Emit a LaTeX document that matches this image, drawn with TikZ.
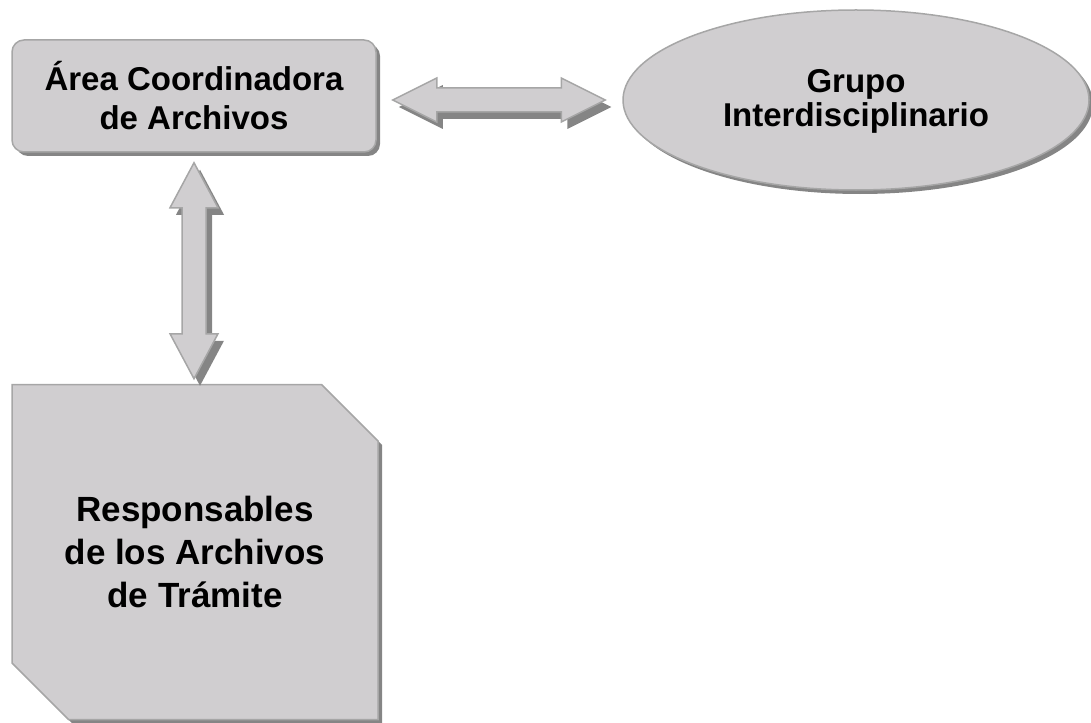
\documentclass[tikz,border=0pt]{standalone}
\usepackage{fontspec}
\setmainfont{Liberation Sans}
\usetikzlibrary{calc,shapes.geometric,shapes.misc,shadows}
\definecolor{boxfill}{RGB}{208,206,208}
\definecolor{boxline}{RGB}{166,166,166}
\definecolor{shadowgray}{RGB}{133,133,133}
\begin{document}
\begin{tikzpicture}[x=1pt,y=-1pt,line join=miter,
  boxshadow/.style={drop shadow={shadow xshift=4pt,shadow yshift=-4pt,fill=shadowgray,opacity=1}},
  arrowshadow/.style={drop shadow={shadow xshift=6pt,shadow yshift=-7pt,fill=shadowgray,opacity=1}},
  shapebox/.style={fill=boxfill,draw=boxline,line width=1.5pt,inner sep=0pt,boxshadow},
  blockarrow/.style={fill=boxfill,draw=boxline,line width=1.5pt,arrowshadow},
  labeltext/.style={font=\bfseries\fontsize{33}{#1}\selectfont,align=center,inner sep=0pt},
  labeltext/.default=39]
 % page
 \useasboundingbox (0,0) rectangle (1091,722);

 % the three offices
 \node[shapebox,rounded corners=12pt,minimum width=364pt,minimum height=112pt,
       labeltext] (area) at (194,96) {Área Coordinadora\\de Archivos};
 \node[shapebox,ellipse,minimum width=466pt,minimum height=180pt] (grupo) at (856,100) {};
 \node[labeltext=34] (grupotxt) at ([yshift=-1pt]grupo.center) {Grupo\\Interdisciplinario};
 \node[shapebox,chamfered rectangle,chamfered rectangle corners={north east,south west},
       chamfered rectangle xsep=28pt,chamfered rectangle ysep=28.5pt,
       minimum width=366pt,minimum height=335pt,labeltext=43,
       font=\bfseries\fontsize{35}{43}\selectfont]
       (resp) at (195,552) {Responsables\\de los Archivos\\de Trámite};

 % ends of the block arrows
 \coordinate (hl) at ([xshift=16pt]area.east |- grupo.center);
 \coordinate (hr) at ([xshift=-17pt]grupo.west);
 \coordinate (vt) at ([yshift=-10pt]area.south);
 \coordinate (vb) at ([yshift=5pt]vt |- resp.north);

 % horizontal double arrow
 \draw[blockarrow] (hl) -- ++(44,-22) -- ++(0,10) -- ($(hr)+(-44,-12)$) -- ++(0,-10)
   -- (hr) -- ++(-44,22) -- ++(0,-10) -- ($(hl)+(44,12)$) -- ++(0,10) -- cycle;

 % vertical double arrow
 \draw[blockarrow] (vt) -- ++(24,45) -- ++(-12,0) -- ($(vb)+(12,-45)$) -- ++(12,0)
   -- (vb) -- ++(-24,-45) -- ++(12,0) -- ($(vt)+(-12,45)$) -- ++(-12,0) -- cycle;
\end{tikzpicture}
\end{document}
